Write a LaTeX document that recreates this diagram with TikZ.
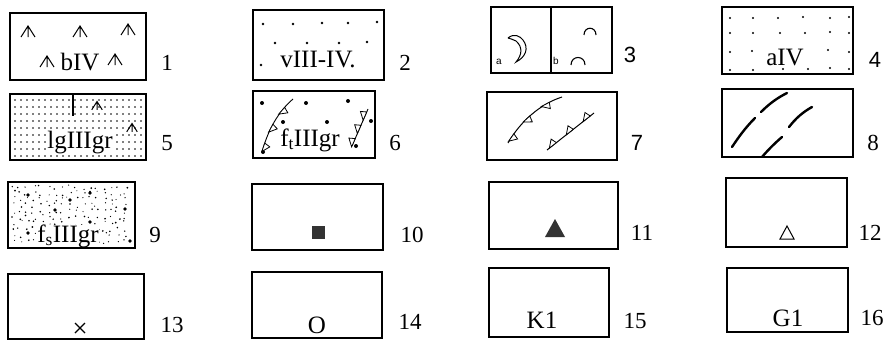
\documentclass[tikz,border=0pt]{standalone}
\usepackage{fontspec}
\setmainfont{Liberation Serif}
\newfontfamily\sansf{Liberation Sans}
\usetikzlibrary{decorations.markings}
\begin{document}
\begin{tikzpicture}[x=1pt,y=-1pt,
  box/.style={draw, line width=1.3pt},
  txt/.style={font=\fontsize{25}{27}\selectfont, inner sep=1pt},
  num/.style={font=\fontsize{23}{25}\selectfont, inner sep=0pt},
  snum/.style={font=\sansf\fontsize{22}{24}\selectfont, inner sep=0pt},
  marsh/.pic={\draw[line width=1pt] (-7,5) -- (0,-6) -- (7,5) (0,-6) -- (0,5);},
  barbR/.style={postaction={decorate}, decoration={markings,
     mark=between positions 0.15 and 0.95 step 0.33 with {\draw[line width=0.8pt,fill=white] (0pt,0pt) -- (-9pt,0pt) -- (-2pt,-6pt) -- cycle;}}},
  barbL/.style={postaction={decorate}, decoration={markings,
     mark=between positions 0.2 and 0.95 step 0.36 with {\draw[line width=0.8pt,fill=white] (0pt,0pt) -- (-9pt,0pt) -- (-2pt,6pt) -- cycle;}}},
  dash8/.style={line width=2.4pt, line cap=round},
]
\useasboundingbox (0,0) rectangle (890,340);
\fill[white] (0,0) rectangle (890,340);

% ---------- box 1 ----------
\pic at (28,32) {marsh};
\pic at (80,32) {marsh};
\pic at (128,30) {marsh};
\pic at (47,62) {marsh};
\pic at (115,60) {marsh};
\node[txt] (t1) at (80,62) {bIV};

% ---------- box 2 ----------
\foreach \p in {(263,24),(293,24),(322,23),(348,23),(377,22),(275,43),(307,43),(339,43),(367,42),(261,65)}
  \fill \p circle[radius=1.3];
\node[txt] (t2) at (318,60) {vIII-IV.};

% ---------- box 3 ----------
\draw[line width=1pt] (508,38) .. controls (514,33) and (520,36) .. (523,40)
   .. controls (529,48) and (526,57) .. (516,62)
   .. controls (522,55) and (523,47) .. (516,41) .. controls (513,39) and (510,39) .. (508,38);
\draw[line width=1.1pt] (584,35) .. controls (584,26) and (596,26) .. (596,35);
\draw[line width=1.1pt] (571,65) .. controls (571,55) and (585,55) .. (585,65);
\node[font=\sansf\fontsize{10}{11}\selectfont, inner sep=0pt] (ta) at (499,62) {a};
\node[font=\sansf\fontsize{10}{11}\selectfont, inner sep=0pt] (tb) at (556,61) {b};

% ---------- box 4 ----------
\foreach \p in {(730,18),(753,18),(778,18),(803,17),(830,18),(849,17),
                (730,33),(753,33),(780,33),(805,33),(830,32),(849,33),
                (730,52),(752,51),(828,50),(849,52),
                (730,70),(753,70),(783,69),(808,69),(830,68),(849,69)}
  \fill \p circle[radius=1.1];
\node[txt] (t4) at (785,58) {aIV};

% ---------- box 5 ----------
\foreach \xx in {15,21,...,141}
  \foreach \yy in {100,107,...,156}
    \fill (\xx,\yy) circle[radius=0.8];
\pic[scale=0.75] at (97,106) {marsh};
\pic[scale=0.75] at (132,128) {marsh};
\node[txt, fill=white, inner sep=0.5pt] (t5) at (80,143) {lgIIIgr};

% ---------- box 6 ----------
\foreach \p in {(262,103),(306,103),(348,101),(283,122),(327,122),(371,121),(263,152),(356,146)}
  \fill \p circle[radius=2];
\node[txt] (t6) at (310,140) {f\textsubscript{t}IIIgr};
\draw[line width=0.9pt, barbR] (262,152) .. controls (268,130) and (278,112) .. (293,99);
\draw[line width=0.9pt, barbL] (352,146) -- (368,109);

% ---------- box 7 ----------
\draw[line width=1pt, barbR] (508,143) .. controls (520,122) and (540,104) .. (562,97);
\draw[line width=1pt, barbL] (547,150) -- (594,113);

% ---------- box 8 ----------
\draw[dash8] (732,147) .. controls (738,138) and (745,128) .. (755,118);
\draw[dash8] (761,112) .. controls (769,104) and (777,98) .. (787,93);
\draw[dash8] (762,157) .. controls (768,150) and (775,143) .. (782,137);
\draw[dash8] (789,127) .. controls (796,118) and (803,112) .. (812,107);

% ---------- box 9 ----------
\pgfmathsetseed{12}
\foreach \xx in {13,20,...,131}
  \foreach \yy in {187,193,...,245}{
    \pgfmathsetmacro\px{\xx+5*rnd-2.5}
    \pgfmathsetmacro\py{\yy+5*rnd-2.5}
    \pgfmathsetmacro\pr{0.5+0.45*rnd}
    \fill (\px,\py) circle[radius=\pr];
  }
\foreach \p in {(28,195),(90,193),(55,210),(125,209),(90,222),(28,233),(130,241),(70,200)}
  \fill \p circle[radius=1.8];
\node[txt, fill=white, inner sep=0pt] (t9) at (68,236) {f\textsubscript{s}IIIgr};

% ---------- boxes 10-16 ----------
\fill[black!80] (311.5,225.5) rectangle (324.5,238.5);
\fill[black!80] (545,237) -- (565,237) -- (555,219) -- cycle;
\draw[line width=1pt] (780,239) -- (794,239) -- (787,226) -- cycle;
\draw[line width=1.1pt] (75,323) -- (85,333) (75,333) -- (85,323);
\node[txt] (t14) at (317,325) {O};
\node[txt] (t15) at (542,320) {K1};
\node[txt] (t16) at (788,318) {G1};

% ---------- boxes ----------
\draw[box] (10,13) rectangle (146,80);
\draw[box] (253,10) rectangle (384,80);
\draw[box] (491,7) rectangle (612,73);
\draw[box] (551,7) -- (551,73);
\draw[box] (722,7) rectangle (853,74);

\draw[box] (10,94) rectangle (146,160);
\draw[box] (73,94) -- (73,116);
\draw[box] (253,91) rectangle (375,158);
\draw[box] (487,92) rectangle (617,160);
\draw[box] (722,89) rectangle (853,157);

\draw[box] (8,182) rectangle (135,248);
\draw[box] (252,184) rectangle (383,250);
\draw[box] (489,182) rectangle (618,249);
\draw[box] (726,178) rectangle (847,247);

\draw[box] (8,274) rectangle (144,339);
\draw[box] (252,272) rectangle (382,338);
\draw[box] (489,268) rectangle (609,337);
\draw[box] (727,268) rectangle (848,332);

% ---------- labels ----------
\node[num] (n1) at (167,63) {1};
\node[num] (n2) at (405,63) {2};
\node[snum] (n3) at (630,55) {3};
\node[snum] (n4) at (875,60) {4};
\node[num] (n5) at (167,143) {5};
\node[num] (n6) at (395,143) {6};
\node[snum] (n7) at (637,143) {7};
\node[num] (n8) at (873,143) {8};
\node[num] (n9) at (155,235) {9};
\node[num] (n10) at (412,235) {10};
\node[num] (n11) at (642,233) {11};
\node[num] (n12) at (870,233) {12};
\node[num] (n13) at (172,325) {13};
\node[num] (n14) at (410,322) {14};
\node[num] (n15) at (635,321) {15};
\node[num] (n16) at (872,318) {16};
\end{tikzpicture}
\end{document}
